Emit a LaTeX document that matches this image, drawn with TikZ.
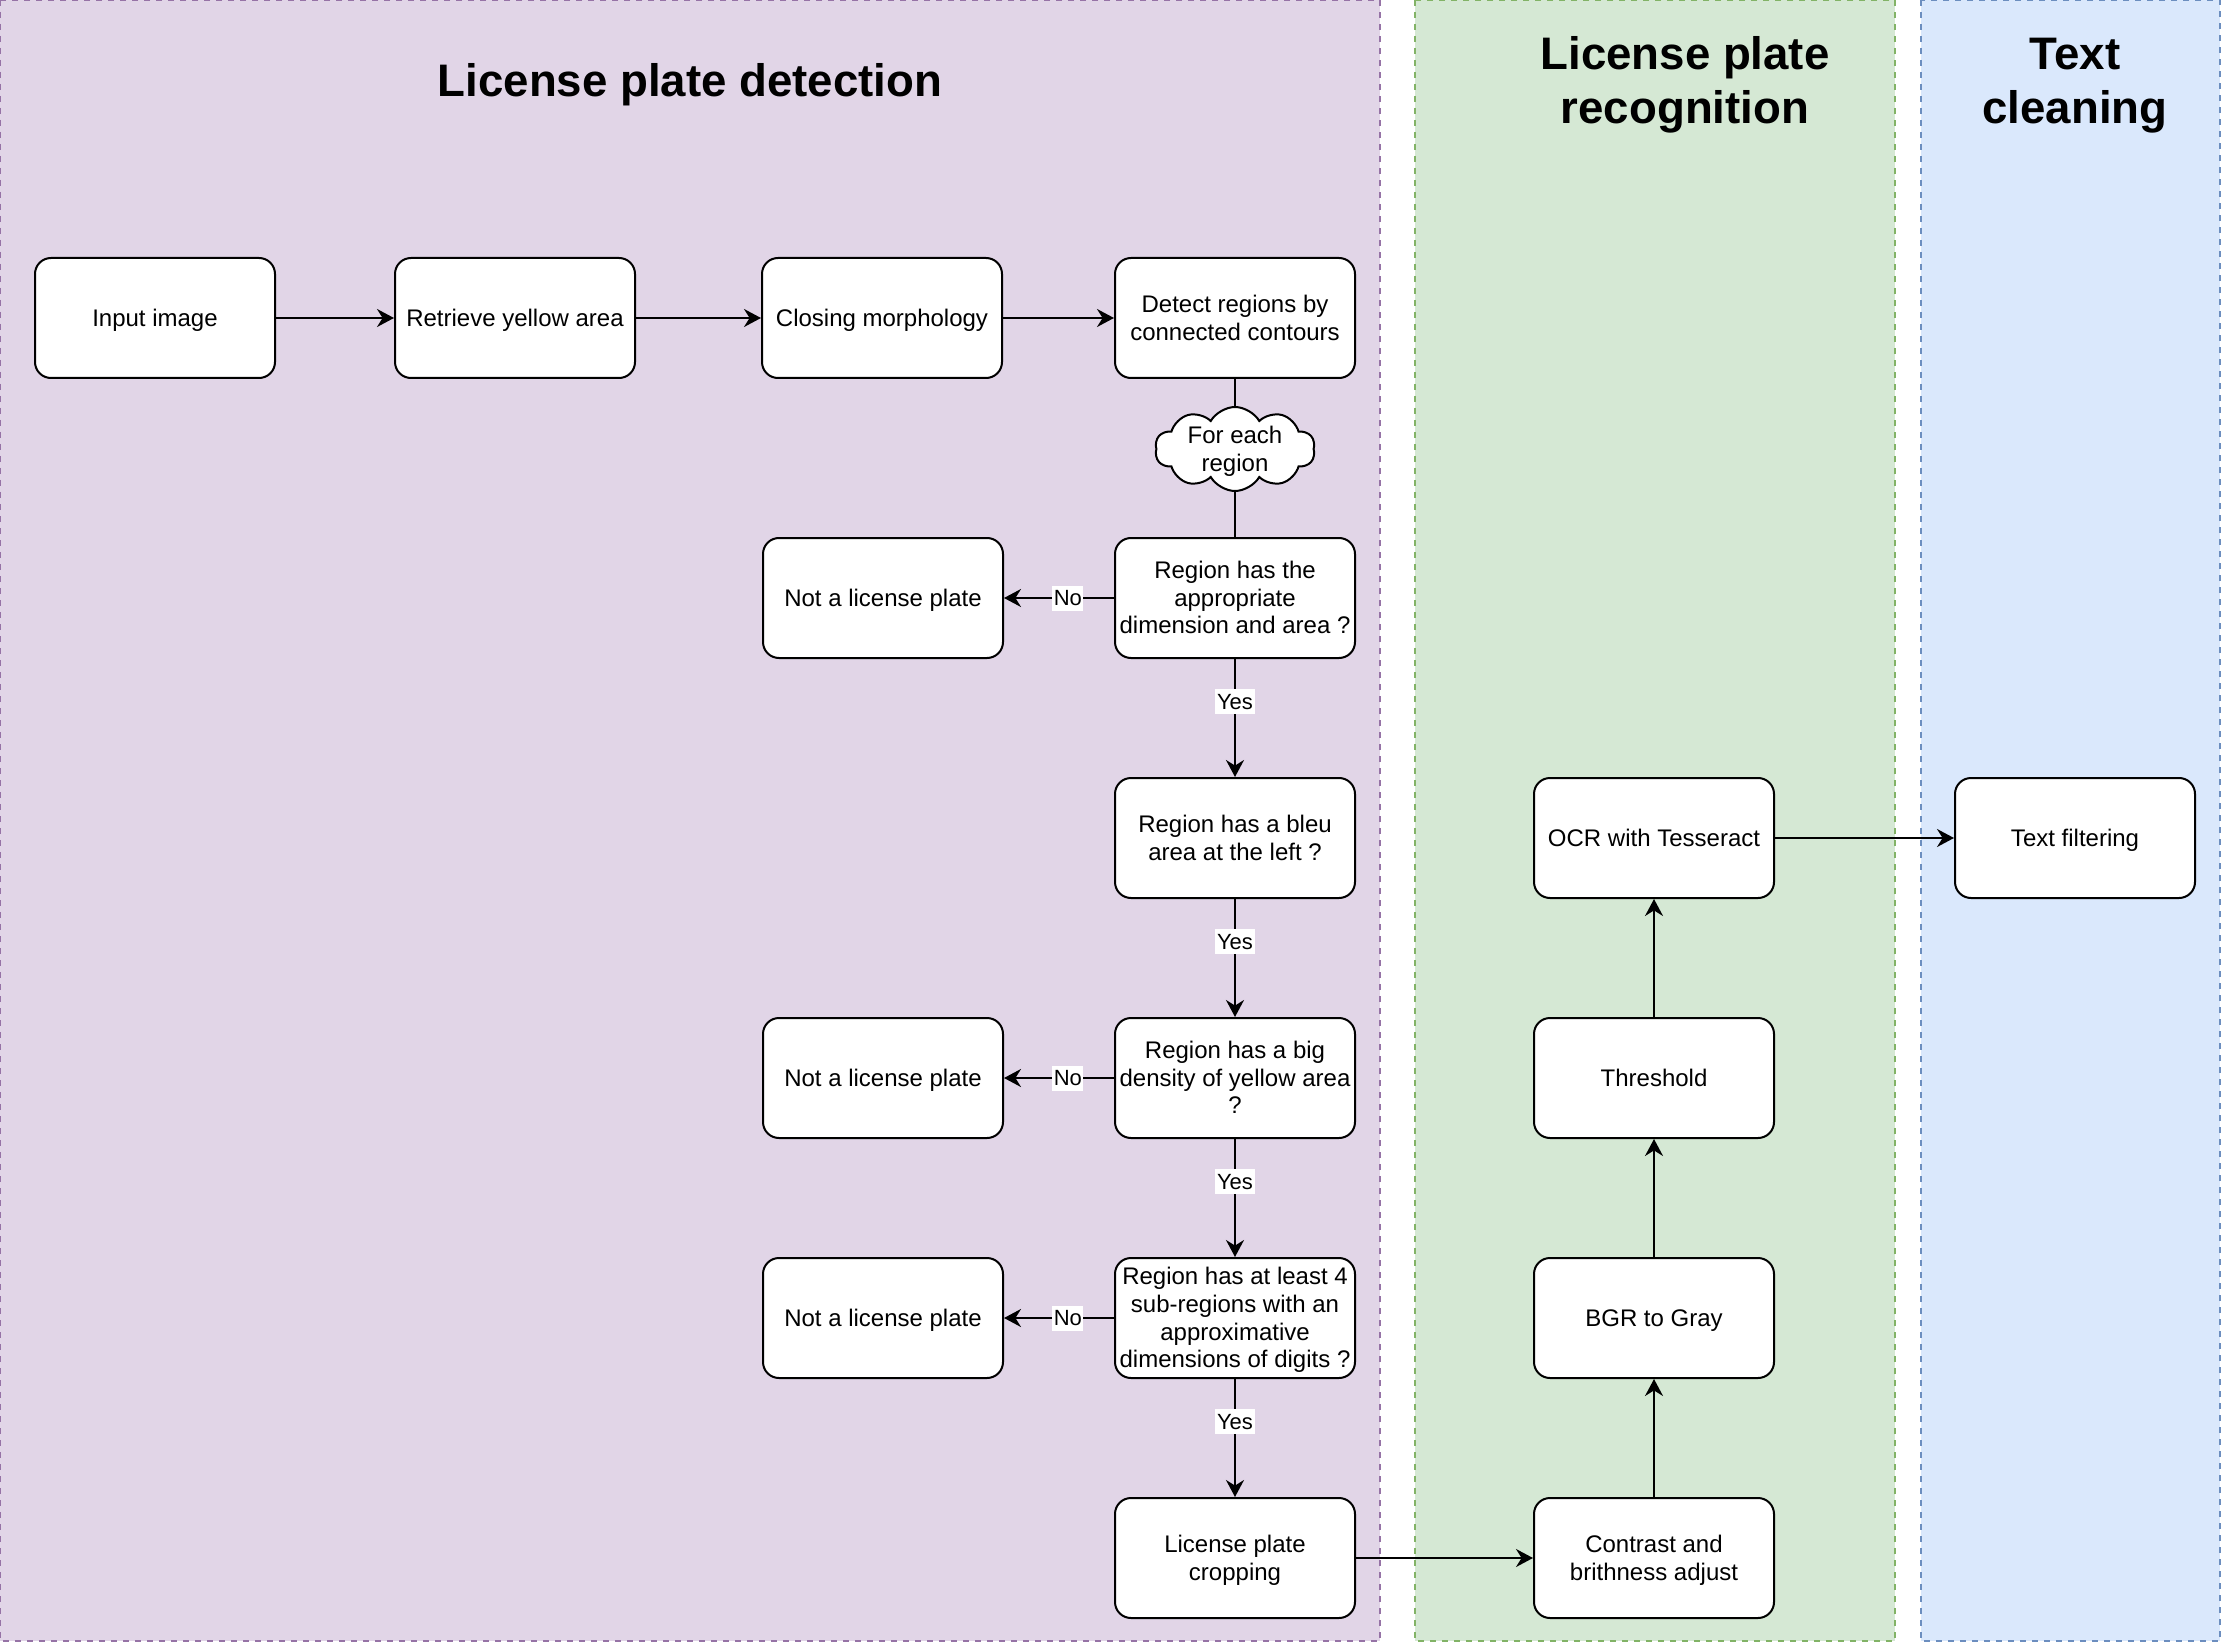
\documentclass[tikz,border=0pt]{standalone}
\usepackage{fontspec}
\setmainfont{Liberation Sans}
\usepackage{tikz}
\usetikzlibrary{arrows.meta, positioning, shapes.symbols}
\definecolor{detfill}{HTML}{E1D5E7}
\definecolor{detline}{HTML}{9673A6}
\definecolor{recfill}{HTML}{D5E8D4}
\definecolor{recline}{HTML}{82B366}
\definecolor{cleanfill}{HTML}{DAE8FC}
\definecolor{cleanline}{HTML}{6C8EBF}
\newcommand{\linetop}[1]{\rule{0pt}{#1}}
\newcommand{\linebot}[1]{\rule[-#1]{0pt}{#1}}
\tikzset{
	lanebox/.style 2 args={draw=#1, fill=#2, line width=1pt, dash pattern=on 3pt off 3pt},
	lanetitle/.style={align=flush center, text width=300pt, inner sep=0pt, font=\bfseries\fontsize{22.8}{26.9}\selectfont,
		execute at begin node=\linetop{21.34pt}, execute at end node=\linebot{5.56pt}},
	boxtext/.style={align=flush center, text width=118pt, font=\fontsize{12}{13.8}\selectfont,
		execute at begin node=\linetop{11.06pt}, execute at end node=\linebot{2.74pt}},
	stepbox/.style={boxtext, draw, fill=white, rounded corners=8pt, minimum width=120pt, minimum height=60pt, line width=1pt, inner sep=1pt},
	cloudbox/.style={draw, fill=white, cloud, cloud puffs=10, cloud puff arc=120, aspect=2, minimum width=80pt, minimum height=42pt, inner sep=0pt, line width=1pt},
	flowarr/.style={-{Stealth[length=8.5pt, width=9pt, inset=2.8pt]}, line width=1pt},
	flowline/.style={line width=1pt},
	answer/.style={fill=white, inner xsep=0.8pt, inner ysep=0pt, text height=10.06pt, text depth=2.44pt, font=\fontsize{11}{12.5}\selectfont},
}
\begin{document}
\begin{tikzpicture}[x=1pt, y=1pt]
	\useasboundingbox (0,0) rectangle (1111,-821);
	\draw[lanebox={detline}{detfill}] (0,0) rectangle (690,-820.5);
	\draw[lanebox={recline}{recfill}] (707.5,0) rectangle (947.5,-820.5);
	\draw[lanebox={cleanline}{cleanfill}] (960.5,0) rectangle (1110,-820.5);
	\node[lanetitle] (titledet) at (345,-40.5) {License plate detection};
	\node[lanetitle] (titlerec) at (842.5,-40.5) {License plate\\recognition};
	\node[lanetitle] (titleclean) at (1037.5,-40.5) {Text\\cleaning};

	\node[stepbox] (input) at (77.5,-159) {Input image};
	\node[stepbox] (yellow) at (257.5,-159) {Retrieve yellow area};
	\node[stepbox] (closing) at (441,-159) {Closing morphology};
	\node[stepbox] (detect) at (617.5,-159) {Detect regions by\\connected contours};
	\node[stepbox] (dim) at (617.5,-299) {Region has the\\appropriate\\dimension and area ?};
	\node[stepbox] (notdim) at (441.5,-299) {Not a license plate};
	\node[stepbox] (bleu) at (617.5,-419) {Region has a bleu\\area at the left ?};
	\node[stepbox] (dens) at (617.5,-539) {Region has a big\\density of yellow area\\?};
	\node[stepbox] (notdens) at (441.5,-539) {Not a license plate};
	\node[stepbox] (digits) at (617.5,-659) {Region has at least 4\\sub-regions with an\\approximative\\dimensions of digits ?};
	\node[stepbox] (notdig) at (441.5,-659) {Not a license plate};
	\node[stepbox] (crop) at (617.5,-779) {License plate\\cropping};

	\node[stepbox] (contrast) at (827,-779) {Contrast and\\brithness adjust};
	\node[stepbox] (gray) at (827,-659) {BGR to Gray};
	\node[stepbox] (thresh) at (827,-539) {Threshold};
	\node[stepbox] (ocr) at (827,-419) {OCR with Tesseract};
	\node[stepbox] (filter) at (1037.5,-419) {Text filtering};

	\draw[flowarr] (input) -- (yellow);
	\draw[flowarr] (yellow) -- (closing);
	\draw[flowarr] (closing) -- (detect);
	\draw[flowline] (detect) -- (dim);
	\node[cloudbox, label={[boxtext, text width=80pt, inner sep=0pt]center:For each\\region}] (each) at (617.5,-224.5) {};
	\draw[flowarr] (dim) -- node[answer, pos=0.42] {No} (notdim);
	\draw[flowarr] (dim) -- node[answer, pos=0.36] {Yes} (bleu);
	\draw[flowarr] (bleu) -- node[answer, pos=0.36] {Yes} (dens);
	\draw[flowarr] (dens) -- node[answer, pos=0.42] {No} (notdens);
	\draw[flowarr] (dens) -- node[answer, pos=0.36] {Yes} (digits);
	\draw[flowarr] (digits) -- node[answer, pos=0.42] {No} (notdig);
	\draw[flowarr] (digits) -- node[answer, pos=0.36] {Yes} (crop);
	\draw[flowarr] (crop) -- (contrast);
	\draw[flowarr] (contrast) -- (gray);
	\draw[flowarr] (gray) -- (thresh);
	\draw[flowarr] (thresh) -- (ocr);
	\draw[flowarr] (ocr) -- (filter);
\end{tikzpicture}
\end{document}
